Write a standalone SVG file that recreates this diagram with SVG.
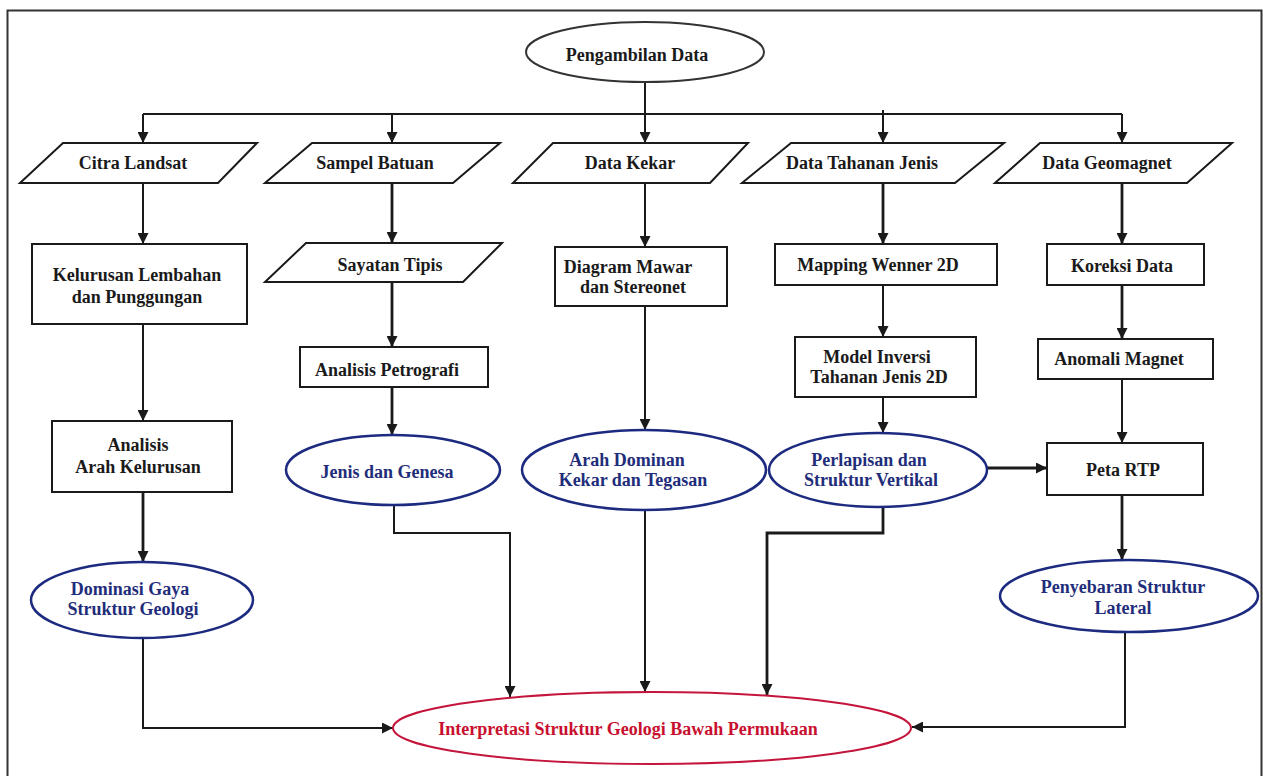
<svg xmlns="http://www.w3.org/2000/svg" width="1263" height="776" viewBox="0 0 1263 776">
<defs>
<marker id="ah" viewBox="0 0 10 10" refX="10" refY="5" markerWidth="11" markerHeight="11" markerUnits="userSpaceOnUse" orient="auto">
<path d="M0,0 L10,5 L0,10 z" fill="#1a1a1a"/>
</marker>
<style>
.frame{fill:none;stroke:#333;stroke-width:2}
.box{fill:#fff;stroke:#1a1a1a;stroke-width:2}
.top{fill:#fff;stroke:#333;stroke-width:2}
.blue{fill:#fff;stroke:#1c2a80;stroke-width:2.5}
.red{fill:#fff;stroke:#c4163c;stroke-width:2}
.c{fill:none;stroke:#1a1a1a;stroke-width:2}
.c.t{stroke-width:2.8}
text{font-family:"Liberation Serif","Times New Roman",serif;font-weight:bold;font-size:18px;text-anchor:middle}
.k{fill:#1a1a1a}
.b{fill:#1f2d7a}
.r{fill:#c8102e}
</style>
</defs>
<rect width="1263" height="776" fill="#fff"/>
<path class="frame" d="M7.5,776 L7.5,10.5 L1261.5,10.5 L1261.5,776"/>

<g id="connectors">
<path class="c" d="M645,82 L645,114"/>
<path class="c" d="M143,114 L1122,114"/>
<path class="c" d="M143,114 L143,143" marker-end="url(#ah)"/>
<path class="c" d="M392,114 L392,143" marker-end="url(#ah)"/>
<path class="c" d="M645,114 L645,143" marker-end="url(#ah)"/>
<path class="c" d="M883,110 L883,143" marker-end="url(#ah)"/>
<path class="c" d="M1122,114 L1122,143" marker-end="url(#ah)"/>

<path class="c" d="M143,183 L143,244" marker-end="url(#ah)"/>
<path class="c" d="M143,324 L143,421" marker-end="url(#ah)"/>
<path class="c t" d="M143,492 L143,562" marker-end="url(#ah)"/>
<path class="c" d="M143,637 L143,728 L393,728" marker-end="url(#ah)"/>

<path class="c t" d="M392,183 L392,243" marker-end="url(#ah)"/>
<path class="c t" d="M392,282 L392,347" marker-end="url(#ah)"/>
<path class="c t" d="M392,387 L392,435" marker-end="url(#ah)"/>
<path class="c" d="M394,505 L394,533 L510,533 L510,697" marker-end="url(#ah)"/>

<path class="c" d="M645,183 L645,247" marker-end="url(#ah)"/>
<path class="c" d="M645,306 L645,430" marker-end="url(#ah)"/>
<path class="c" d="M645,510 L645,692" marker-end="url(#ah)"/>

<path class="c t" d="M883,183 L883,244" marker-end="url(#ah)"/>
<path class="c" d="M883,285 L883,337" marker-end="url(#ah)"/>
<path class="c" d="M883,397 L883,433" marker-end="url(#ah)"/>
<path class="c t" d="M883,507 L883,533 L767,533 L767,695" marker-end="url(#ah)"/>
<path class="c t" d="M987,468 L1047,468" marker-end="url(#ah)"/>

<path class="c t" d="M1122,183 L1122,244" marker-end="url(#ah)"/>
<path class="c t" d="M1122,285 L1122,339" marker-end="url(#ah)"/>
<path class="c" d="M1122,379 L1122,443" marker-end="url(#ah)"/>
<path class="c t" d="M1122,495 L1122,560" marker-end="url(#ah)"/>
<path class="c" d="M1125,632 L1125,727 L912,727" marker-end="url(#ah)"/>
</g>

<g id="n-pengambilan">
<ellipse class="top" cx="645" cy="52" rx="119" ry="30"/>
<text class="k" x="637" y="61">Pengambilan Data</text>
</g>

<g id="n-citra">
<polygon class="box" points="63,143 257,143 218,183 20,183"/>
<text class="k" x="133" y="169">Citra Landsat</text>
</g>
<g id="n-sampel">
<polygon class="box" points="312,143 500,143 453,183 265,183"/>
<text class="k" x="375" y="169">Sampel Batuan</text>
</g>
<g id="n-kekar">
<polygon class="box" points="553,143 748,143 710,183 513,183"/>
<text class="k" x="630" y="169">Data Kekar</text>
</g>
<g id="n-tahanan">
<polygon class="box" points="791,143 1004,143 955,183 742,183"/>
<text class="k" x="862" y="169">Data Tahanan Jenis</text>
</g>
<g id="n-geomagnet">
<polygon class="box" points="1040,143 1232,143 1187,183 995,183"/>
<text class="k" x="1107" y="169">Data Geomagnet</text>
</g>

<g id="n-kelurusan">
<rect class="box" x="32" y="244" width="215" height="80"/>
<text class="k" x="137" y="281">Kelurusan Lembahan</text>
<text class="k" x="137" y="303">dan Punggungan</text>
</g>
<g id="n-analisis-arah">
<rect class="box" x="52" y="421" width="180" height="71"/>
<text class="k" x="138" y="451">Analisis</text>
<text class="k" x="138" y="473">Arah Kelurusan</text>
</g>
<g id="n-dominasi">
<ellipse class="blue" cx="142" cy="600" rx="111" ry="38"/>
<text class="b" x="130" y="595">Dominasi Gaya</text>
<text class="b" x="133" y="615">Struktur Geologi</text>
</g>

<g id="n-sayatan">
<polygon class="box" points="306,243 502,243 463,282 265,282"/>
<text class="k" x="390" y="271">Sayatan Tipis</text>
</g>
<g id="n-petrografi">
<rect class="box" x="300" y="347" width="188" height="40"/>
<text class="k" x="387" y="376">Analisis Petrografi</text>
</g>
<g id="n-jenis">
<ellipse class="blue" cx="393" cy="470" rx="107" ry="35"/>
<text class="b" x="387" y="478">Jenis dan Genesa</text>
</g>

<g id="n-diagram">
<rect class="box" x="555" y="247" width="172" height="59"/>
<text class="k" x="628" y="273">Diagram Mawar</text>
<text class="k" x="633" y="293">dan Stereonet</text>
</g>
<g id="n-arah">
<ellipse class="blue" cx="644" cy="470" rx="122" ry="40"/>
<text class="b" x="627" y="466">Arah Dominan</text>
<text class="b" x="633" y="486">Kekar dan Tegasan</text>
</g>

<g id="n-wenner">
<rect class="box" x="775" y="244" width="222" height="41"/>
<text class="k" x="878" y="271">Mapping Wenner 2D</text>
</g>
<g id="n-inversi">
<rect class="box" x="795" y="337" width="181" height="60"/>
<text class="k" x="877" y="363">Model Inversi</text>
<text class="k" x="879" y="383">Tahanan Jenis 2D</text>
</g>
<g id="n-perlapisan">
<ellipse class="blue" cx="878" cy="470" rx="109" ry="37"/>
<text class="b" x="869" y="466">Perlapisan dan</text>
<text class="b" x="871" y="486">Struktur Vertikal</text>
</g>

<g id="n-koreksi">
<rect class="box" x="1047" y="244" width="157" height="41"/>
<text class="k" x="1122" y="272">Koreksi Data</text>
</g>
<g id="n-anomali">
<rect class="box" x="1038" y="339" width="175" height="40"/>
<text class="k" x="1119" y="365">Anomali Magnet</text>
</g>
<g id="n-rtp">
<rect class="box" x="1047" y="443" width="156" height="52"/>
<text class="k" x="1123" y="476">Peta RTP</text>
</g>
<g id="n-penyebaran">
<ellipse class="blue" cx="1129" cy="596" rx="129" ry="36"/>
<text class="b" x="1123" y="593">Penyebaran Struktur</text>
<text class="b" x="1123" y="614">Lateral</text>
</g>

<g id="n-interpretasi">
<ellipse class="red" cx="652" cy="728" rx="259" ry="36"/>
<text class="r" x="628" y="735">Interpretasi Struktur Geologi Bawah Permukaan</text>
</g>
</svg>
